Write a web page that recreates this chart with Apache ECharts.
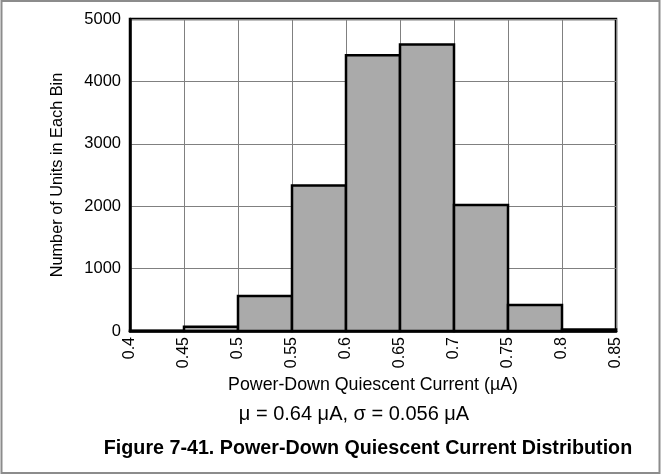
<!DOCTYPE html>
<html>
<head>
<meta charset="utf-8">
<script src="https://cdn.jsdelivr.net/npm/echarts@6/dist/echarts.min.js"></script>
<style>
  html, body { margin: 0; padding: 0; background: #fff; }
  #chart { width: 661px; height: 476px; }
</style>
</head>
<body>
<div id="chart"></div>
<script>
// Histogram bins (µA) and unit counts per bin
const binStarts = [0.40, 0.45, 0.50, 0.55, 0.60, 0.65, 0.70, 0.75, 0.80];
const binEnds   = [0.45, 0.50, 0.55, 0.60, 0.65, 0.70, 0.75, 0.80, 0.85];
const counts    = [5, 70, 560, 2330, 4420, 4590, 2020, 415, 25];
const xTickLabels = ['0.4', '0.45', '0.5', '0.55', '0.6', '0.65', '0.7', '0.75', '0.8', '0.85'];
const yTickLabels = ['0', '1000', '2000', '3000', '4000', '5000'];

const FONT = "'Liberation Sans', Arial, sans-serif";

const histData = binStarts.map((s, i) => [s, binEnds[i], counts[i]]);

const chart = echarts.init(document.getElementById('chart'), null, { renderer: 'canvas' });

chart.setOption({
  animation: false,
  backgroundColor: '#fff',
  title: [
    {
      text: 'μ = 0.64 μA, σ = 0.056 μA',
      left: 349, top: 399, textAlign: 'center',
      textStyle: { fontFamily: FONT, fontSize: 20, fontWeight: 'normal', color: '#000' }
    },
    {
      text: 'Figure 7-41. Power-Down Quiescent Current Distribution',
      left: 363, top: 434, textAlign: 'center',
      textStyle: { fontFamily: FONT, fontSize: 19.7, fontWeight: 'bold', color: '#000' }
    }
  ],
  grid: {
    left: 130, top: 19, right: 45, bottom: 145,
    show: true, borderColor: '#000', borderWidth: 2.5, backgroundColor: 'transparent'
  },
  xAxis: {
    type: 'value', min: 0.4, max: 0.85, interval: 0.05,
    name: 'Power-Down Quiescent Current (µA)',
    nameLocation: 'middle', nameGap: 41,
    nameTextStyle: { fontFamily: FONT, fontSize: 17.8, color: '#000' },
    axisLine: { show: true, lineStyle: { color: '#000', width: 2.5 } },
    axisTick: { show: false },
    axisLabel: {
      rotate: 90, margin: 6, fontFamily: FONT, fontSize: 16, color: '#000',
      formatter: v => {
        const i = Math.round((v - 0.4) / 0.05);
        return xTickLabels[i] !== undefined ? xTickLabels[i] : '';
      }
    },
    splitLine: { show: true, lineStyle: { color: '#808080', width: 1 } }
  },
  yAxis: {
    type: 'value', min: 0, max: 5000, interval: 1000,
    name: 'Number of Units in Each Bin',
    nameLocation: 'middle', nameGap: 64,
    nameTextStyle: { fontFamily: FONT, fontSize: 16.3, color: '#000' },
    axisLine: { show: true, lineStyle: { color: '#000', width: 2.5 } },
    axisTick: { show: false },
    axisLabel: {
      margin: 9, fontFamily: FONT, fontSize: 16.5, color: '#000',
      formatter: v => {
        const i = Math.round(v / 1000);
        return yTickLabels[i] !== undefined ? yTickLabels[i] : '';
      }
    },
    splitLine: { show: true, lineStyle: { color: '#808080', width: 1 } }
  },
  series: [{
    type: 'custom',
    data: histData,
    encode: { x: [0, 1], y: 2 },
    renderItem: (params, api) => {
      const p0 = api.coord([api.value(0), 0]);
      const p1 = api.coord([api.value(1), api.value(2)]);
      return {
        type: 'rect',
        shape: { x: p0[0], y: p1[1], width: p1[0] - p0[0], height: p0[1] - p1[1] },
        style: { fill: '#aaaaaa', stroke: '#000', lineWidth: 2.5 }
      };
    },
    z: 3
  }],
  graphic: [{
    type: 'rect', silent: true, z: 100,
    shape: { x: 1.5, y: 1, width: 658, height: 472 },
    style: { fill: 'none', stroke: '#8c8c8c', lineWidth: 2 }
  }]
});
</script>
</body>
</html>
